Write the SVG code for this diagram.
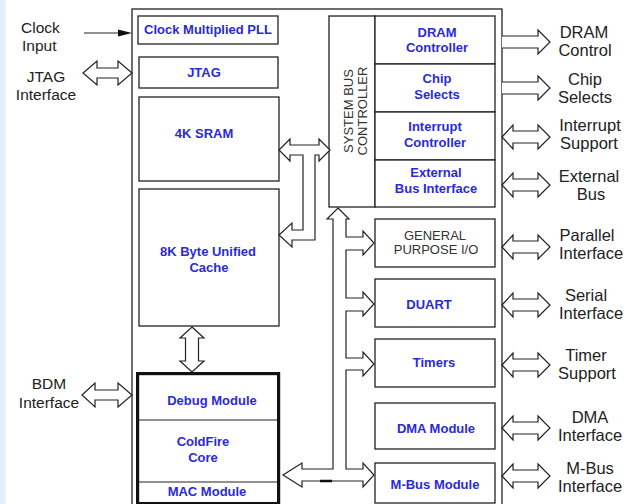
<svg xmlns="http://www.w3.org/2000/svg" width="628" height="504" viewBox="0 0 628 504">
<style>
.box{fill:#fff;stroke:#222;stroke-width:1.3}
.thick{fill:#fff;stroke:#111;stroke-width:3.2}
.ln{fill:none;stroke:#222;stroke-width:1.2}
.arr{fill:#fff;stroke:#222;stroke-width:1.2;stroke-linejoin:miter}
.nt{font-family:"Liberation Sans",Arial,sans-serif;font-weight:bold;font-size:13px;fill:#2a2ad8;text-anchor:middle}
.gt{font-family:"Liberation Sans",Arial,sans-serif;font-size:13px;fill:#333;text-anchor:middle}
.rl{font-family:"Liberation Sans",Arial,sans-serif;font-size:16.5px;fill:#222;text-anchor:middle}
.ll{font-family:"Liberation Sans",Arial,sans-serif;font-size:15.5px;fill:#222}
</style>
<rect x="0" y="0" width="628" height="504" fill="#fff"/>
<rect x="0" y="0" width="6" height="504" fill="#e2f0fc"/>

<g id="chip">
<rect class="box" x="132" y="9" width="370" height="510"/>
</g>

<g id="pll">
<rect class="box" x="138" y="16" width="140" height="28"/>
<text class="nt" x="208" y="34">Clock Multiplied PLL</text>
</g>
<g id="jtag">
<rect class="box" x="139" y="57" width="139" height="31"/>
<text class="nt" x="204" y="77">JTAG</text>
</g>
<g id="sram">
<rect class="box" x="139" y="97" width="140" height="84"/>
<text class="nt" x="204" y="138">4K SRAM</text>
</g>
<g id="cache">
<rect class="box" x="139" y="189" width="140" height="137"/>
<text class="nt" x="208" y="256">8K Byte Unified</text>
<text class="nt" x="209" y="272">Cache</text>
</g>
<g id="core">
<rect class="thick" x="137.6" y="373.6" width="141" height="130"/>
<line class="ln" x1="139" y1="420" x2="277" y2="420"/>
<line class="ln" x1="139" y1="482" x2="277" y2="482"/>
<text class="nt" x="212" y="405">Debug Module</text>
<text class="nt" x="203" y="446">ColdFire</text>
<text class="nt" x="203" y="462">Core</text>
<text class="nt" x="207" y="496">MAC Module</text>
</g>

<g id="sbc">
<rect class="box" x="329" y="16" width="46" height="191"/>
<text class="gt" transform="translate(353,111) rotate(-90)" x="0" y="0">SYSTEM BUS</text>
<text class="gt" transform="translate(367,111) rotate(-90)" x="0" y="0">CONTROLLER</text>
</g>
<g id="dram">
<rect class="box" x="375" y="16" width="120" height="48"/>
<text class="nt" x="437" y="37">DRAM</text>
<text class="nt" x="437" y="52">Controller</text>
</g>
<g id="chipsel">
<rect class="box" x="375" y="64" width="120" height="48"/>
<text class="nt" x="437" y="83">Chip</text>
<text class="nt" x="437" y="99">Selects</text>
</g>
<g id="intc">
<rect class="box" x="375" y="112" width="120" height="48"/>
<text class="nt" x="435" y="131">Interrupt</text>
<text class="nt" x="435" y="147">Controller</text>
</g>
<g id="ebi">
<rect class="box" x="375" y="160" width="120" height="47"/>
<text class="nt" x="436" y="177">External</text>
<text class="nt" x="436" y="193">Bus Interface</text>
</g>
<g id="gpio">
<rect class="box" x="375" y="219" width="120" height="48"/>
<text class="gt" x="435" y="240">GENERAL</text>
<text class="gt" x="436" y="254">PURPOSE I/O</text>
</g>
<g id="duart">
<rect class="box" x="375" y="279" width="120" height="48"/>
<text class="nt" x="429" y="309">DUART</text>
</g>
<g id="timers">
<rect class="box" x="375" y="339" width="120" height="48"/>
<text class="nt" x="434" y="367">Timers</text>
</g>
<g id="dma">
<rect class="box" x="375" y="403" width="120" height="46"/>
<text class="nt" x="436" y="433">DMA Module</text>
</g>
<g id="mbus">
<rect class="box" x="375" y="463" width="120" height="40"/>
<text class="nt" x="435" y="489">M-Bus Module</text>
</g>

<g id="labels">
<text class="ll" x="21" y="33">Clock</text>
<text class="ll" x="22" y="51">Input</text>
<text class="ll" x="46" y="82" text-anchor="middle">JTAG</text>
<text class="ll" x="46" y="100" text-anchor="middle">Interface</text>
<text class="ll" x="49" y="389" text-anchor="middle" font-size="16.5">BDM</text>
<text class="ll" x="49" y="408" text-anchor="middle" font-size="16.5">Interface</text>
<text class="rl" x="584" y="38">DRAM</text>
<text class="rl" x="585" y="56">Control</text>
<text class="rl" x="585" y="85">Chip</text>
<text class="rl" x="585" y="103">Selects</text>
<text class="rl" x="590" y="131">Interrupt</text>
<text class="rl" x="589" y="149">Support</text>
<text class="rl" x="589" y="182">External</text>
<text class="rl" x="591" y="200">Bus</text>
<text class="rl" x="587" y="241">Parallel</text>
<text class="rl" x="591" y="259">Interface</text>
<text class="rl" x="586" y="301">Serial</text>
<text class="rl" x="591" y="319">Interface</text>
<text class="rl" x="586" y="361">Timer</text>
<text class="rl" x="587" y="379">Support</text>
<text class="rl" x="590" y="423">DMA</text>
<text class="rl" x="590" y="441">Interface</text>
<text class="rl" x="590" y="474">M-Bus</text>
<text class="rl" x="590" y="492">Interface</text>
</g>

<g id="connectors">
<line class="ln" x1="84" y1="33" x2="120" y2="33"/>
<polygon points="118,29.5 132,33 118,36.5" fill="#111"/>
<path class="arr" d="M83,73 L97,61 L97,68 L118,68 L118,61 L132,73 L118,85 L118,78 L97,78 L97,85 Z"/>
<path class="arr" d="M82,395 L95,383 L95,390 L118,390 L118,383 L132,395 L118,407 L118,400 L95,400 L95,407 Z"/>
<path class="arr" d="M192,327 L204,338 L198.5,338 L198.5,361 L204,361 L192,372 L180,361 L185.5,361 L185.5,338 L180,338 Z"/>
<path class="arr" d="M279,150 L290,139 L290,145 L319,145 L319,139 L330,150 L319,161 L319,155 L315,155 L315,240 L292,240 L292,247 L279,235 L292,223 L292,230 L303,230 L303,155 L290,155 L290,161 Z"/>
<path class="arr" d="M338,208 L349,219 L346,219 L346,237 L363,237 L363,231 L374,243 L363,255 L363,250 L346,250 L346,298 L363,298 L363,292 L374,304 L363,316 L363,311 L346,311 L346,358 L363,358 L363,352 L374,364 L363,376 L363,370 L346,370 L346,469 L363,469 L363,463 L374,475 L363,487 L363,481 L302,481 L302,487 L283,475 L302,463 L302,469 L333,469 L333,219 L327,219 Z"/>
<line x1="320" y1="481" x2="332" y2="481" stroke="#111" stroke-width="2.5"/>
<path class="arr" d="M502,36 L538,36 L538,30 L550,42 L538,54 L538,48 L502,48"/>
<path class="arr" d="M502,82 L538,82 L538,76 L550,88 L538,100 L538,94 L502,94"/>
<path class="arr" d="M502,137 L513,125 L513,131 L538,131 L538,125 L550,137 L538,149 L538,143 L513,143 L513,149 Z"/>
<path class="arr" d="M502,185 L513,173 L513,179 L538,179 L538,173 L550,185 L538,197 L538,191 L513,191 L513,197 Z"/>
<path class="arr" d="M502,247 L513,235 L513,241 L538,241 L538,235 L550,247 L538,259 L538,253 L513,253 L513,259 Z"/>
<path class="arr" d="M502,305 L513,293 L513,299 L538,299 L538,293 L550,305 L538,317 L538,311 L513,311 L513,317 Z"/>
<path class="arr" d="M502,365 L513,353 L513,359 L538,359 L538,353 L550,365 L538,377 L538,371 L513,371 L513,377 Z"/>
<path class="arr" d="M502,428 L513,416 L513,422 L538,422 L538,416 L550,428 L538,440 L538,434 L513,434 L513,440 Z"/>
<path class="arr" d="M502,476 L513,464 L513,470 L538,470 L538,464 L550,476 L538,488 L538,482 L513,482 L513,488 Z"/>
</g>
</svg>
